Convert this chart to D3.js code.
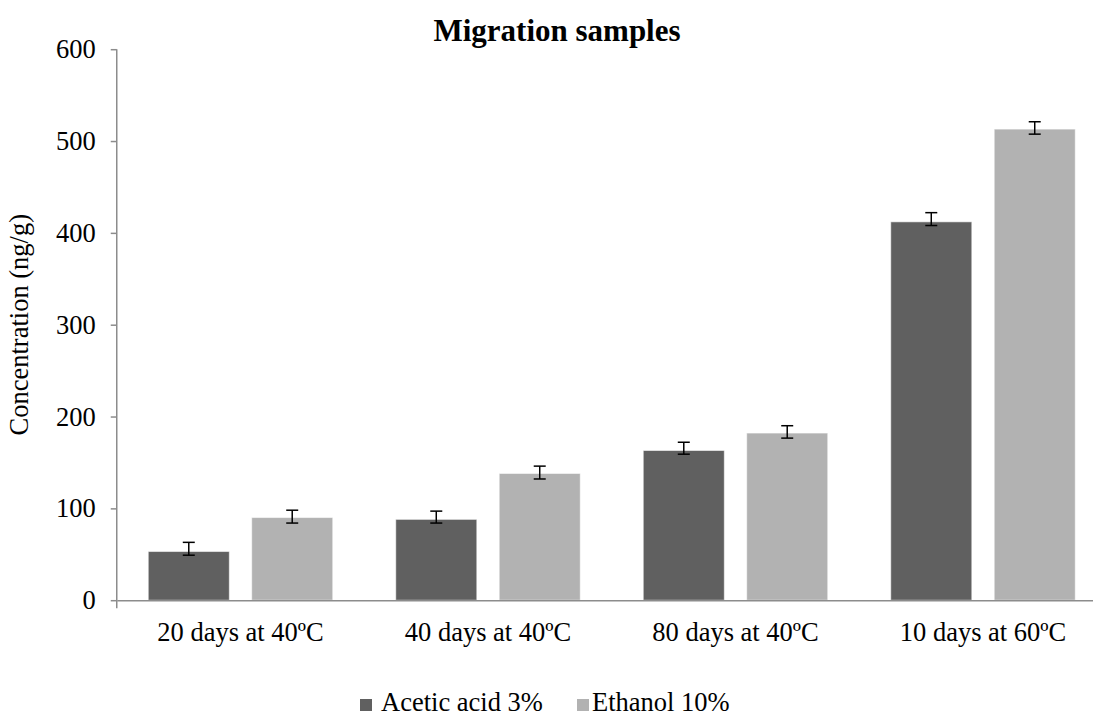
<!DOCTYPE html>
<html>
<head>
<meta charset="utf-8">
<script src="https://cdn.jsdelivr.net/npm/d3@7"></script>
<style>
  html, body { margin: 0; padding: 0; background: #fff; }
  svg { display: block; font-family: "Liberation Serif", "Times New Roman", serif; }
</style>
</head>
<body>
<svg id="chart" width="1093" height="716"></svg>
<script>
// Migration test conditions
const categories = ["20 days at 40ºC", "40 days at 40ºC", "80 days at 40ºC", "10 days at 60ºC"];
const seriesNames = ["Acetic acid 3%", "Ethanol 10%"];

// Mean concentrations (ng/g)
const aceticValues = [53, 88, 163, 412];
const ethanolValues = [90, 138, 182, 513];

// Error bar extents above / below each mean (ng/g)
const aceticErrPlus = [10, 9, 9, 10];
const aceticErrMinus = [4, 4, 4, 4];
const ethanolErrPlus = [8, 8, 8, 8];
const ethanolErrMinus = [6, 6, 5.5, 5.5];

const yTicks = [0, 100, 200, 300, 400, 500, 600];
const colors = ["#606060", "#b2b2b2"];

const svg = d3.select("#chart");
const axisColor = "#8c8c8c";

const x0 = d3.scaleBand().domain(categories).range([116.75, 1106.75]).paddingInner(0).paddingOuter(0);
const x1 = d3.scaleBand().domain(seriesNames).range([0, x0.bandwidth()]).paddingInner(0.2166).paddingOuter(0.3046);
const y = d3.scaleLinear().domain([0, 600]).range([600.2, 49.2]);

const rows = categories.map((c, i) => ({
  cat: c,
  vals: [
    { name: seriesNames[0], v: aceticValues[i], up: aceticErrPlus[i], dn: aceticErrMinus[i], color: colors[0] },
    { name: seriesNames[1], v: ethanolValues[i], up: ethanolErrPlus[i], dn: ethanolErrMinus[i], color: colors[1] }
  ]
}));

// Title
svg.append("text")
  .attr("x", 557).attr("y", 41)
  .attr("text-anchor", "middle")
  .attr("font-weight", "bold")
  .attr("font-size", 31)
  .text("Migration samples");

// Y axis
const yAxis = d3.axisLeft(y).tickValues(yTicks).tickSize(6).tickPadding(15).tickSizeOuter(0);
const gy = svg.append("g").attr("transform", "translate(116.75,0)").call(yAxis);
gy.select(".domain").remove();
gy.selectAll(".tick line").attr("stroke", axisColor).attr("stroke-width", 1.5);
gy.selectAll(".tick text").attr("font-size", 26.5).attr("fill", "#000")
  .attr("font-family", "Liberation Serif, Times New Roman, serif");
svg.append("line")
  .attr("x1", 116.75).attr("x2", 116.75)
  .attr("y1", y(600)).attr("y2", y(0) + 8)
  .attr("stroke", axisColor).attr("stroke-width", 1.5);

// Y axis title
svg.append("text")
  .attr("transform", "translate(28," + ((y(0) + y(600)) / 2) + ") rotate(-90)")
  .attr("text-anchor", "middle")
  .attr("font-size", 26.5)
  .text("Concentration (ng/g)");

// Bars
const groups = svg.append("g").selectAll("g").data(rows).join("g")
  .attr("transform", d => "translate(" + x0(d.cat) + ",0)");

groups.selectAll("rect").data(d => d.vals).join("rect")
  .attr("x", d => x1(d.name))
  .attr("width", x1.bandwidth())
  .attr("y", d => y(d.v))
  .attr("height", d => y(0) - y(d.v))
  .attr("fill", d => d.color)
  .attr("stroke", "rgba(255,255,255,0.55)")
  .attr("stroke-width", 1);

// Error bars
const eb = groups.selectAll("g.err").data(d => d.vals).join("g").attr("class", "err")
  .attr("transform", d => "translate(" + (x1(d.name) + x1.bandwidth() / 2) + ",0)");
eb.append("line").attr("x1", 0).attr("x2", 0)
  .attr("y1", d => y(d.v + d.up)).attr("y2", d => y(d.v - d.dn))
  .attr("stroke", "#000").attr("stroke-width", 1.5);
eb.append("line").attr("x1", -6).attr("x2", 6)
  .attr("y1", d => y(d.v + d.up)).attr("y2", d => y(d.v + d.up))
  .attr("stroke", "#000").attr("stroke-width", 1.5);
eb.append("line").attr("x1", -6).attr("x2", 6)
  .attr("y1", d => y(d.v - d.dn)).attr("y2", d => y(d.v - d.dn))
  .attr("stroke", "#000").attr("stroke-width", 1.5);

// X axis
const xAxis = d3.axisBottom(x0).tickSize(0).tickPadding(0);
const gx = svg.append("g").attr("transform", "translate(0," + y(0) + ")").call(xAxis);
gx.select(".domain").attr("stroke", axisColor).attr("stroke-width", 1.5);
gx.selectAll(".tick text").attr("font-size", 26.5).attr("fill", "#000")
  .attr("font-family", "Liberation Serif, Times New Roman, serif")
  .attr("dy", null).attr("y", 41);

// Legend
const legendItems = [
  { name: seriesNames[0], color: colors[0], sx: 360, tx: 381 },
  { name: seriesNames[1], color: colors[1], sx: 577, tx: 592 }
];
const lg = svg.append("g").selectAll("g").data(legendItems).join("g");
lg.append("rect").attr("x", d => d.sx).attr("y", 699).attr("width", 12).attr("height", 12)
  .attr("fill", d => d.color);
lg.append("text").attr("x", d => d.tx).attr("y", 711)
  .attr("font-size", 26.5).text(d => d.name);
</script>
</body>
</html>
